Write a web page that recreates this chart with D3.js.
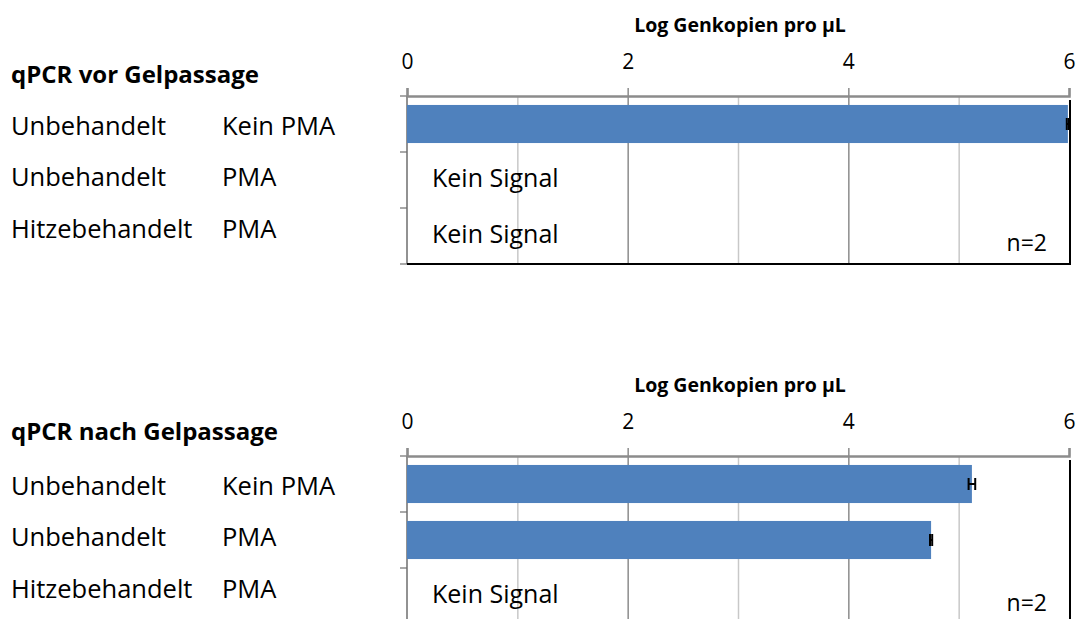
<!DOCTYPE html>
<html>
<head>
  <meta charset="utf-8">
  <script src="https://d3js.org/d3.v7.min.js"></script>
  <style>
    body { margin: 0; background: #fff; }
    svg { font-family: "Open Sans", Lato, sans-serif; }
  </style>
</head>
<body>
  <div id="chart"></div>

  <script>
// data
const rowLabels = ["Unbehandelt", "Unbehandelt", "Hitzebehandelt"];
const pmaLabels = ["Kein PMA", "PMA", "PMA"];
const panelTitles = ["qPCR vor Gelpassage", "qPCR nach Gelpassage"];
const valuesVor = [5.99, null, null];
const errorsVor = [0.01, 0, 0];
const valuesNach = [5.12, 4.75, null];
const errorsNach = [0.03, 0.01, 0];
const xTicks = [0, 2, 4, 6];
const axisTitle = "Log Genkopien pro µL";
const noSignal = "Kein Signal";
const nLabel = "n=2";

const W = 1082, H = 619;
const svg = d3.select("#chart").append("svg")
  .attr("width", W).attr("height", H);

const x = d3.scaleLinear().domain([0, 6]).range([407, 1069]);

const panels = [
  { title: panelTitles[0], values: valuesVor, errors: errorsVor, top: 96, titleY: 75 },
  { title: panelTitles[1], values: valuesNach, errors: errorsNach, top: 456, titleY: 432 }
];

const plotH = 168;

panels.forEach(p => {
  const g = svg.append("g");
  const idx = d3.range(rowLabels.length);

  const y = d3.scaleBand()
    .domain(idx)
    .range([p.top, p.top + plotH])
    .paddingInner(0.32)
    .paddingOuter(0.16);

  const yLab = d3.scalePoint()
    .domain(idx)
    .range([p.top + 30, p.top + 133]);

  // gridlines
  const grid = g.append("g")
    .attr("transform", `translate(0,${p.top})`)
    .call(d3.axisBottom(x).tickValues(d3.range(1, 6)).tickSize(plotH).tickFormat(""));
  grid.select(".domain").remove();
  grid.selectAll(".tick line")
    .attr("stroke", d => d % 2 === 0 ? "#8c8c8c" : "#c8c8c8")
    .attr("stroke-width", 1.5);

  // category tick marks on the left
  g.append("g")
    .selectAll("line")
    .data(d3.range(rowLabels.length + 1))
    .join("line")
    .attr("x1", x(0) - 7).attr("x2", x(0))
    .attr("y1", i => p.top + i * y.step())
    .attr("y2", i => p.top + i * y.step())
    .attr("stroke", "#8c8c8c").attr("stroke-width", 1.5);

  // left axis line
  g.append("line")
    .attr("x1", x(0)).attr("x2", x(0))
    .attr("y1", p.top).attr("y2", p.top + plotH)
    .attr("stroke", "#6e6e6e").attr("stroke-width", 1.5);

  // right and bottom borders
  g.append("line")
    .attr("x1", x(6) + 1).attr("x2", x(6) + 1)
    .attr("y1", p.top + 4).attr("y2", p.top + plotH)
    .attr("stroke", "#000").attr("stroke-width", 2);
  g.append("line")
    .attr("x1", x(0)).attr("x2", x(6) + 2)
    .attr("y1", p.top + plotH).attr("y2", p.top + plotH)
    .attr("stroke", "#000").attr("stroke-width", 2);

  // bars
  const rows = idx.map(i => ({ i, v: p.values[i], e: p.errors[i] }));
  g.append("g")
    .selectAll("rect")
    .data(rows.filter(d => d.v !== null))
    .join("rect")
    .attr("x", x(0))
    .attr("y", d => y(d.i))
    .attr("width", d => x(d.v) - x(0))
    .attr("height", y.bandwidth())
    .attr("fill", "#4f81bd");

  // error bars
  const eb = g.append("g").selectAll("g")
    .data(rows.filter(d => d.v !== null))
    .join("g")
    .attr("stroke", "#000").attr("stroke-width", 2);
  eb.append("line")
    .attr("x1", d => x(d.v - d.e)).attr("x2", d => x(d.v + d.e))
    .attr("y1", d => y(d.i) + y.bandwidth() / 2)
    .attr("y2", d => y(d.i) + y.bandwidth() / 2);
  [-1, 1].forEach(s => {
    eb.append("line")
      .attr("x1", d => x(d.v + s * d.e)).attr("x2", d => x(d.v + s * d.e))
      .attr("y1", d => y(d.i) + y.bandwidth() / 2 - 6)
      .attr("y2", d => y(d.i) + y.bandwidth() / 2 + 6);
  });

  // "Kein Signal"
  g.append("g")
    .selectAll("text")
    .data(rows.filter(d => d.v === null))
    .join("text")
    .attr("x", x(0) + 25)
    .attr("y", d => y(d.i) + y.bandwidth() / 2 - 2)
    .attr("dy", "0.35em")
    .attr("font-size", 25)
    .attr("fill", "#000")
    .text(noSignal);

  // n=2
  g.append("text")
    .attr("x", x(6) - 22)
    .attr("y", p.top + 147)
    .attr("dy", "0.35em")
    .attr("text-anchor", "end")
    .attr("font-size", 23)
    .text(nLabel);

  // top axis
  const ax = g.append("g")
    .attr("transform", `translate(0,${p.top})`)
    .call(d3.axisTop(x).tickValues(xTicks).tickSize(8).tickPadding(19).tickFormat(d3.format("d")));
  ax.select(".domain").attr("stroke", "#8c8c8c").attr("stroke-width", 2.5);
  ax.selectAll(".tick line").attr("stroke", "#8c8c8c").attr("stroke-width", 1.5);
  ax.selectAll(".tick text").attr("font-size", 21).attr("fill", "#000")
    .attr("font-family", "'Open Sans', Lato, sans-serif");

  // axis title
  g.append("text")
    .attr("x", (x(0) + x(6)) / 2 + 2)
    .attr("y", p.top - 71)
    .attr("dy", "0.35em")
    .attr("text-anchor", "middle")
    .attr("font-size", 19.5)
    .attr("font-weight", "bold")
    .text(axisTitle);

  // panel title
  g.append("text")
    .attr("x", 11)
    .attr("y", p.titleY)
    .attr("dy", "0.35em")
    .attr("font-size", 24)
    .attr("font-weight", "bold")
    .text(p.title);

  // row labels
  g.append("g")
    .selectAll("text")
    .data(idx)
    .join("text")
    .attr("x", 11)
    .attr("y", i => yLab(i))
    .attr("dy", "0.35em")
    .attr("font-size", 25.5)
    .text(i => rowLabels[i]);
  g.append("g")
    .selectAll("text")
    .data(idx)
    .join("text")
    .attr("x", 222)
    .attr("y", i => yLab(i))
    .attr("dy", "0.35em")
    .attr("font-size", 25.5)
    .text(i => pmaLabels[i]);
});
  </script>
</body>
</html>
